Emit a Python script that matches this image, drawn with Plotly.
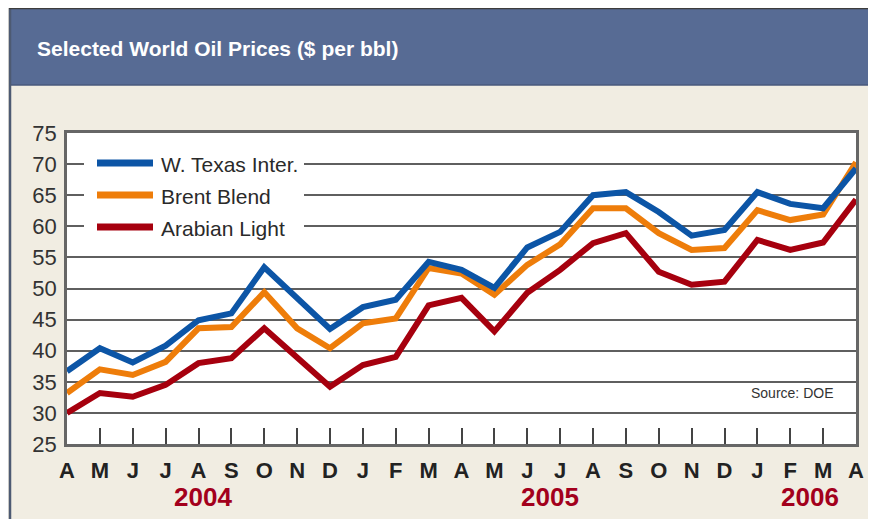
import plotly.graph_objects as go

months = ["A","M","J","J","A","S","O","N","D","J","F","M",
          "A","M","J","J","A","S","O","N","D","J","F","M","A"]
years = ["2004", "2005", "2006"]
year_pos = [4.15, 14.7, 22.6]

series_names = ["W. Texas Inter.", "Brent Blend", "Arabian Light"]
wti = [36.7, 40.4, 38.1, 40.8, 44.9, 46.0, 53.4, 48.5, 43.5, 47.0, 48.2, 54.3,
       53.0, 50.1, 56.6, 59.1, 65.0, 65.5, 62.3, 58.5, 59.4, 65.5, 63.6, 62.9, 69.3]
brent = [33.2, 37.0, 36.1, 38.2, 43.6, 43.8, 49.4, 43.6, 40.4, 44.4, 45.2, 53.3,
         52.4, 49.0, 53.8, 57.1, 62.9, 62.9, 58.9, 56.2, 56.5, 62.6, 61.0, 61.9, 70.3]
arab = [30.0, 33.2, 32.6, 34.5, 38.0, 38.8, 43.6, 38.8, 34.2, 37.7, 39.0, 47.3,
        48.5, 43.1, 49.3, 53.0, 57.3, 58.9, 52.7, 50.6, 51.1, 57.8, 56.2, 57.4, 64.3]
yticks = [25, 30, 35, 40, 45, 50, 55, 60, 65, 70, 75]
colors = ["#0c55a6", "#ee7d0a", "#a6000e"]

# page body adds an 8px offset; screen coordinates below are converted
OFF = 8
SW, SH = 876, 519
W, H = SW - OFF, SH - OFF
L, R, T, B = 67, 856, 133, 444  # plot area in screen pixels
def px(x):
    return (x - L) / (R - L)
def py(y):
    return (B - y) / (B - T)

NARROW = "Liberation Sans Narrow, Arial Narrow, Liberation Sans, sans-serif"
REG = "Liberation Sans, Arial, sans-serif"

fig = go.Figure()
xs = list(range(len(months)))
for name, vals, c in reversed(list(zip(series_names, [wti, brent, arab], colors))):
    fig.add_trace(go.Scatter(x=xs, y=vals, name=name, mode="lines",
                             line=dict(color=c, width=6), showlegend=False,
                             hoverinfo="skip"))

shapes = []
# header band
shapes.append(dict(type="rect", xref="paper", yref="paper", x0=px(10), x1=px(SW + 5), y0=py(85), y1=py(8),
                   fillcolor="#576b94", line=dict(color="#4a5a7c", width=1.5), layer="below"))
# left frame line
shapes.append(dict(type="line", xref="paper", yref="paper", x0=px(10), x1=px(10), y0=py(SH + 2), y1=py(8),
                   line=dict(color="#4d5a72", width=2.5)))
# top frame line
shapes.append(dict(type="line", xref="paper", yref="paper", x0=px(9), x1=px(SW + 2), y0=py(8.5), y1=py(8.5),
                   line=dict(color="#3d3d3d", width=1.5)))
# legend box covering gridlines
shapes.append(dict(type="rect", xref="paper", yref="paper", x0=px(84), x1=px(304), y0=py(243), y1=py(142),
                   fillcolor="white", line=dict(width=0), layer="above"))
legend_y = [163, 195, 227]
annotations = []
for name, c, ly in zip(series_names, colors, legend_y):
    shapes.append(dict(type="line", xref="paper", yref="paper", x0=px(97), x1=px(153), y0=py(ly), y1=py(ly),
                       line=dict(color=c, width=7), layer="above"))
    annotations.append(dict(text=name, xref="paper", yref="paper", x=px(159), y=py(ly + 1),
                            xanchor="left", yanchor="middle", showarrow=False,
                            font=dict(family=NARROW, size=21, color="#2a2a2a")))

annotations.append(dict(text="<b>Selected World Oil Prices ($ per bbl)</b>", xref="paper", yref="paper",
                        x=px(35), y=py(48), xanchor="left", yanchor="middle", showarrow=False,
                        font=dict(family=REG, size=21, color="white")))
annotations.append(dict(text="Source: DOE", xref="paper", yref="paper", x=px(835), y=py(393),
                        xanchor="right", yanchor="middle", showarrow=False,
                        font=dict(family=NARROW, size=14, color="#333333")))
for yr, xp in zip(years, year_pos):
    annotations.append(dict(text="<b>" + yr + "</b>", xref="x", yref="paper", x=xp, y=py(497),
                            xanchor="center", yanchor="middle", showarrow=False,
                            font=dict(family=NARROW, size=26, color="#a3001c")))

fig.update_layout(
    width=W, height=H,
    margin=dict(l=L - OFF, r=SW - R, t=T - OFF, b=SH - B),
    paper_bgcolor="#f1ede2",
    plot_bgcolor="white",
    shapes=shapes,
    annotations=annotations,
    xaxis=dict(range=[0, 24], tickmode="array", tickvals=xs,
               ticktext=["<b>" + m + "</b>" for m in months],
               ticks="inside", ticklen=16, tickwidth=2, tickcolor="#444",
               showgrid=False, zeroline=False, showline=True, mirror=True,
               linecolor="#666", linewidth=2.5, ticklabelstandoff=5,
               tickfont=dict(family=NARROW, size=22, color="#222")),
    yaxis=dict(range=[25, 75], tickmode="array", tickvals=yticks,
               showgrid=True, gridcolor="#5f5f5f", gridwidth=2, zeroline=False,
               showline=True, mirror=True, linecolor="#666", linewidth=2.5,
               ticks="", ticklabelstandoff=3,
               tickfont=dict(family=NARROW, size=22, color="#333")),
)
fig.write_html("out.html")
